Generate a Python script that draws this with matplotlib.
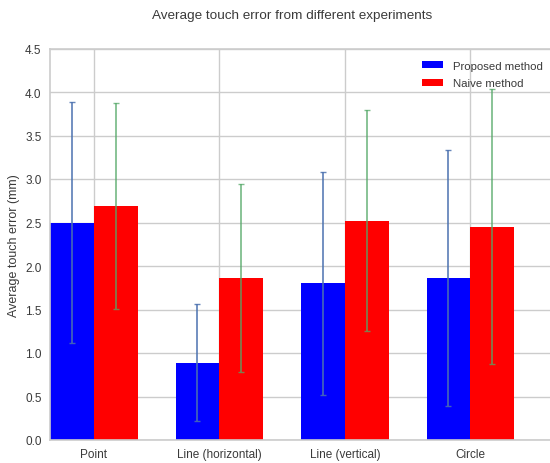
import numpy as np
import matplotlib
matplotlib.use("Agg")
import matplotlib.pyplot as plt

# data
categories = ['Point', 'Line (horizontal)', 'Line (vertical)', 'Circle']
proposed_mean = [2.50, 0.89, 1.80, 1.86]
proposed_std = [1.38, 0.67, 1.28, 1.47]
naive_mean = [2.69, 1.86, 2.52, 2.45]
naive_std = [1.18, 1.08, 1.27, 1.58]

plt.rcParams['font.family'] = ['Liberation Sans', 'DejaVu Sans']
txt = '#3a3a3a'
grid = '#cccccc'

fig = plt.figure(figsize=(5.5, 4.64), dpi=100)
ax = fig.add_axes([50/550, 23/464, 502/550, 391.5/464])

ind = np.arange(len(categories))
width = 0.35

ax.bar(ind, proposed_mean, width, align='edge', color='#0000ff', label='Proposed method', zorder=2)
ax.bar(ind + width, naive_mean, width, align='edge', color='#ff0000', label='Naive method', zorder=2)
ax.errorbar(ind + width/2, proposed_mean, yerr=proposed_std, fmt='none',
            ecolor='#4c72b0', elinewidth=1.3, capsize=2.2, capthick=1.0, alpha=0.85, zorder=3)
ax.errorbar(ind + 1.5*width, naive_mean, yerr=naive_std, fmt='none',
            ecolor='#55a868', elinewidth=1.3, capsize=2.2, capthick=1.0, alpha=0.75, zorder=3)

ax.set_xlim(0, 4)
ax.set_ylim(0, 4.5)
ax.set_yticks(np.arange(0, 4.51, 0.5))
ax.set_xticks(ind + width)
ax.set_xticklabels(categories)
ax.set_ylabel('Average touch error (mm)', fontsize=9, color=txt)
ax.tick_params(length=0, labelsize=8.5, colors=txt, pad=6)
ax.grid(True, color=grid, linewidth=1, zorder=0)
ax.set_axisbelow(True)
for s in ax.spines.values():
    s.set_color(grid)
    s.set_linewidth(1.2)

leg = ax.legend(loc='upper right', bbox_to_anchor=(502/502, 0.992), frameon=False,
                fontsize=8.2, handlelength=1.85, handleheight=0.6, handletextpad=0.9,
                labelspacing=0.65, borderaxespad=0.4)
for t in leg.get_texts():
    t.set_color(txt)

fig.text(292/550, 1 - 16/464, 'Average touch error from different experiments',
         ha='center', va='center', fontsize=9.7, color=txt)

fig.savefig('out.png', dpi=100)
